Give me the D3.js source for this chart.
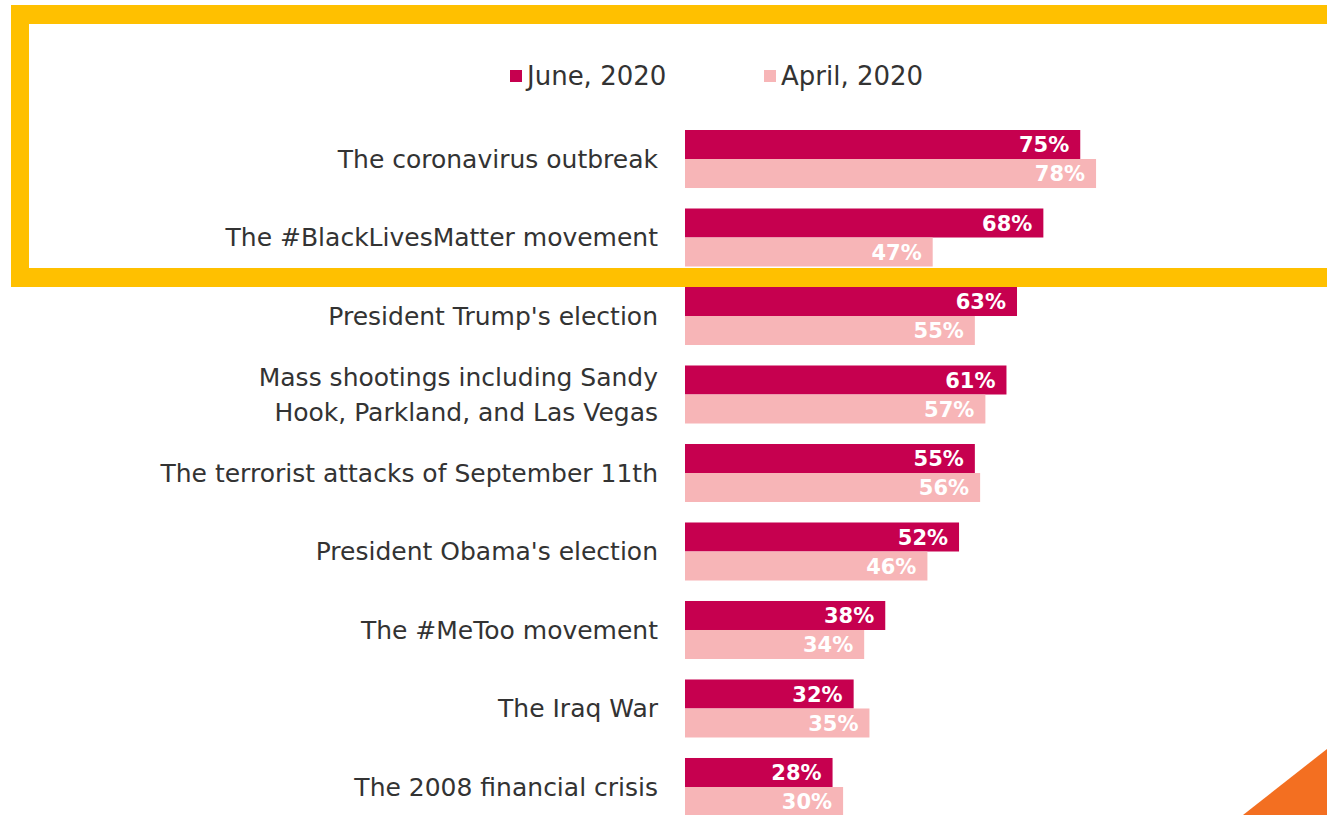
<!DOCTYPE html>
<html>
<head>
<meta charset="utf-8">
<script src="https://cdn.jsdelivr.net/npm/d3@7"></script>
<style>
  html, body { margin: 0; padding: 0; background: #fff; }
  svg { display: block; }
</style>
</head>
<body>
<svg id="chart" width="1327" height="815"></svg>
<script>
// Share of respondents by event, two survey waves
const categories = [
  ["The coronavirus outbreak"],
  ["The #BlackLivesMatter movement"],
  ["President Trump's election"],
  ["Mass shootings including Sandy", "Hook, Parkland, and Las Vegas"],
  ["The terrorist attacks of September 11th"],
  ["President Obama's election"],
  ["The #MeToo movement"],
  ["The Iraq War"],
  ["The 2008 financial crisis"]
];
const june2020 = [75, 68, 63, 61, 55, 52, 38, 32, 28];
const april2020 = [78, 47, 55, 57, 56, 46, 34, 35, 30];
const seriesNames = ["June, 2020", "April, 2020"];

const colors = { june: "#c6004f", april: "#f7b5b7" };
const font = "'DejaVu Sans', 'Open Sans', sans-serif";

const svg = d3.select("#chart");

const x = d3.scaleLinear().domain([0, 100]).range([685, 685 + 527]);
const y = d3.scaleBand()
  .domain(d3.range(categories.length))
  .range([130, 816])
  .paddingInner(0.261)
  .paddingOuter(0);
// inner band splits each group into two bars
const yInner = d3.scaleBand().domain(["june", "april"]).range([0, y.bandwidth()]);

// yellow highlight frame around the top two rows
const frame = svg.append("g");
frame.append("rect").attr("x", 11).attr("y", 5).attr("width", 1316).attr("height", 19).attr("fill", "#ffc000");
frame.append("rect").attr("x", 11).attr("y", 268).attr("width", 1316).attr("height", 19).attr("fill", "#ffc000");
frame.append("rect").attr("x", 11).attr("y", 5).attr("width", 18).attr("height", 282).attr("fill", "#ffc000");

// orange corner accent
svg.append("path")
  .attr("d", "M1243,815 L1327,749 L1327,815 Z")
  .attr("fill", "#f36f21");

// legend
const legend = svg.append("g").attr("font-family", font).attr("font-size", 26).attr("fill", "#333");
[[510, colors.june, seriesNames[0]], [764, colors.april, seriesNames[1]]].forEach(([lx, c, t]) => {
  legend.append("rect").attr("x", lx).attr("y", 70).attr("width", 12).attr("height", 12).attr("fill", c);
  legend.append("text").attr("x", lx + 17).attr("y", 85).text(t);
});

const rows = svg.append("g").selectAll("g")
  .data(categories.map((c, i) => ({ label: c, june: june2020[i], april: april2020[i], i })))
  .join("g")
  .attr("transform", d => `translate(0,${y(d.i)})`);

// category labels, right-aligned against the bars
rows.append("text")
  .attr("x", 658)
  .attr("text-anchor", "end")
  .attr("font-family", font)
  .attr("font-size", 25)
  .attr("fill", "#333")
  .each(function(d) {
    const t = d3.select(this);
    const n = d.label.length;
    const mid = y.bandwidth() / 2;
    d.label.forEach((line, k) => {
      t.append("tspan")
        .attr("x", 658)
        .attr("y", mid + (k - (n - 1) / 2) * 35)
        .attr("dy", "0.35em")
        .text(line);
    });
  });

["june", "april"].forEach(key => {
  rows.append("rect")
    .attr("x", x(0))
    .attr("y", yInner(key))
    .attr("width", d => x(d[key]) - x(0))
    .attr("height", yInner.bandwidth())
    .attr("fill", colors[key]);
  rows.append("text")
    .attr("x", d => x(d[key]) - 11)
    .attr("y", yInner(key) + yInner.bandwidth() / 2)
    .attr("dy", "0.36em")
    .attr("text-anchor", "end")
    .attr("font-family", font)
    .attr("font-weight", "bold")
    .attr("font-size", 21)
    .attr("fill", "#fff")
    .text(d => d[key] + "%");
});
</script>
</body>
</html>
